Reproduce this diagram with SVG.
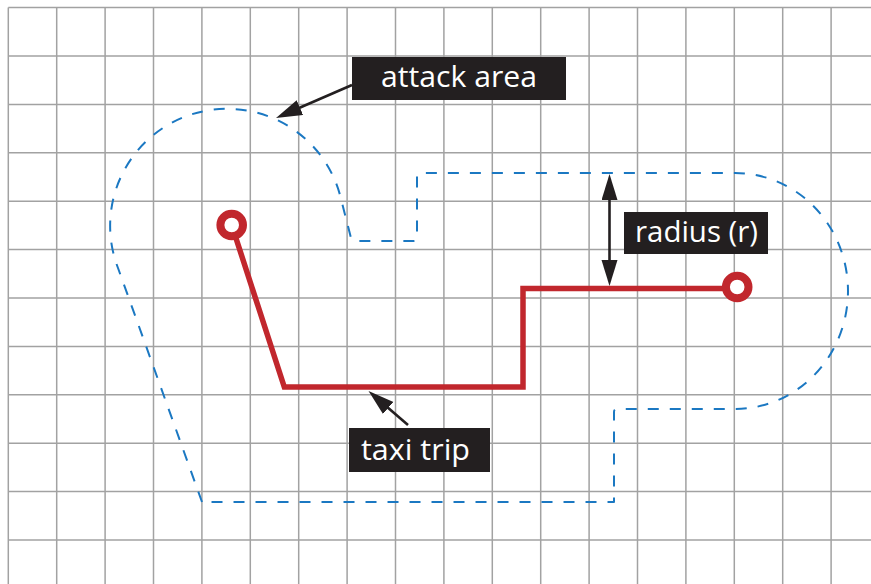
<svg xmlns="http://www.w3.org/2000/svg" width="871" height="584" viewBox="0 0 871 584">
  <style>
    .grid { stroke: #a2a2a2; stroke-width: 1.5; fill: none; }
    .area { stroke: #1b78c2; stroke-width: 2; fill: none; stroke-dasharray: 11 11; stroke-linejoin: round; }
    .trip { stroke: #c1272d; stroke-width: 5.5; fill: none; stroke-linejoin: miter; }
    .stop { stroke: #c1272d; stroke-width: 8; fill: #ffffff; }
    .box { fill: #231f20; }
    .lbl { fill: #ffffff; font-family: "Open Sans", "Noto Sans", "Liberation Sans", sans-serif; font-size: 30px; }
    .conn { stroke: #231f20; stroke-width: 2.6; fill: none; }
  </style>
  <defs>
    <marker id="head" markerUnits="userSpaceOnUse" markerWidth="30" markerHeight="18" refX="16" refY="8" orient="auto-start-reverse">
      <path d="M0,0 L26,8 L0,16 Z" fill="#231f20"/>
    </marker>
  </defs>
  <rect width="871" height="584" fill="#ffffff"/>
  <g id="grid">
    <path class="grid" d="M8.3,7.6V584 M56.7,7.6V584 M105.1,7.6V584 M153.5,7.6V584 M201.9,7.6V584 M250.3,7.6V584 M298.7,7.6V584 M347.1,7.6V584 M395.5,7.6V584 M443.9,7.6V584 M492.3,7.6V584 M540.7,7.6V584 M589.1,7.6V584 M637.5,7.6V584 M685.9,7.6V584 M734.3,7.6V584 M782.7,7.6V584 M831.1,7.6V584 M8.3,7.6H871 M8.3,56H871 M8.3,104.4H871 M8.3,152.8H871 M8.3,201.2H871 M8.3,249.6H871 M8.3,298H871 M8.3,346.4H871 M8.3,394.8H871 M8.3,443.2H871 M8.3,491.6H871 M8.3,540H871"/>
  </g>
  <g id="attack-area">
    <path class="area" d="M202,502 L118,268 A117,117 0 1 1 340,195 L351,238 Q352,241 355,241 L414,241 Q417,241 417,238 L417,176 Q417,173 420,173 L735,173 A113,118 0 0 1 735,409 L617,409 Q614,409 614,412 L614,502 Z"/>
  </g>
  <g id="taxi-trip">
    <path class="trip" d="M231.7,225 L284.3,387 L523,387 L523,288.5 L737,288.5"/>
    <circle class="stop" cx="231.7" cy="225" r="11.3"/>
    <circle class="stop" cx="737.2" cy="287" r="11.3"/>
  </g>
  <g id="connectors">
    <line class="conn" x1="352" y1="85" x2="285.2" y2="114" marker-end="url(#head)"/>
    <line class="conn" x1="408" y1="425" x2="376.1" y2="397.5" marker-end="url(#head)"/>
    <line class="conn" x1="609.5" y1="184" x2="609.5" y2="276" marker-start="url(#head)" marker-end="url(#head)"/>
  </g>
  <g id="label-attack-area">
    <rect class="box" x="352" y="57" width="214" height="43"/>
    <text class="lbl" x="381" y="87" textLength="156" lengthAdjust="spacingAndGlyphs">attack area</text>
  </g>
  <g id="label-radius">
    <rect class="box" x="624" y="212" width="144" height="42"/>
    <text class="lbl" x="635" y="242" textLength="123" lengthAdjust="spacingAndGlyphs">radius (r)</text>
  </g>
  <g id="label-taxi-trip">
    <rect class="box" x="349" y="428" width="141" height="44"/>
    <text class="lbl" x="361" y="460" textLength="109" lengthAdjust="spacingAndGlyphs">taxi trip</text>
  </g>
</svg>
